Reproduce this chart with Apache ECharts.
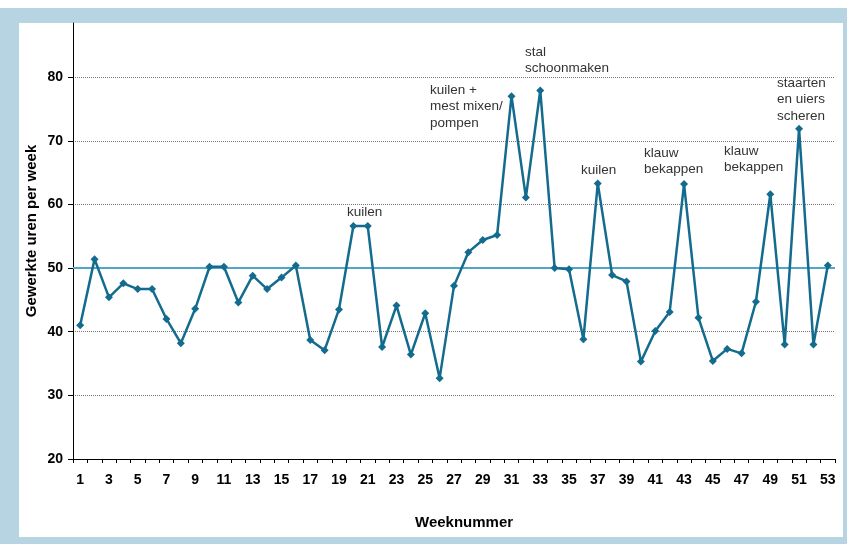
<!DOCTYPE html>
<html>
<head>
<meta charset="utf-8">
<script src="https://cdn.jsdelivr.net/npm/echarts@6/dist/echarts.min.js"></script>
<style>
html,body{margin:0;padding:0;background:#fff;}
#c{width:847px;height:544px;}
</style>
</head>
<body>
<div id="c"></div>
<script>
// Data
const weeks = Array.from({length: 53}, (_, i) => String(i + 1));
const hours = [41.0, 51.4, 45.4, 47.6, 46.7, 46.7, 42.0, 38.2, 43.6, 50.2,
               50.2, 44.6, 48.8, 46.7, 48.5, 50.4, 38.7, 37.1, 43.5, 56.6,
               56.6, 37.6, 44.1, 36.4, 42.9, 32.7, 47.2, 52.5, 54.4, 55.2,
               77.0, 61.1, 77.9, 50.0, 49.8, 38.8, 63.3, 48.9, 47.9, 35.3,
               40.1, 43.1, 63.2, 42.2, 35.4, 37.3, 36.6, 44.7, 61.6, 38.0,
               71.9, 38.0, 50.4];
const referenceLine = 50;
const yTicks = [20, 30, 40, 50, 60, 70, 80];
const yMin = 20;
const yMax = 88.5;
const annotations = [
  {text: 'kuilen', left: 347, top: 204},
  {text: 'kuilen +\nmest mixen/\npompen', left: 430, top: 82},
  {text: 'stal\nschoonmaken', left: 525, top: 44},
  {text: 'kuilen', left: 581, top: 162},
  {text: 'klauw\nbekappen', left: 644, top: 145},
  {text: 'klauw\nbekappen', left: 724, top: 143},
  {text: 'staarten\nen uiers\nscheren', left: 777, top: 75}
];

const chart = echarts.init(document.getElementById('c'), null, {renderer: 'canvas'});
const FONT = 'Liberation Sans, Arial, sans-serif';
const BORDER = '#b7d4e2';

const graphics = [
  {type: 'rect', z: -10, shape: {x: 0, y: 8, width: 847, height: 536}, style: {fill: BORDER}, silent: true},
  {type: 'rect', z: -9, shape: {x: 19, y: 23, width: 824, height: 514}, style: {fill: '#ffffff'}, silent: true},
  {type: 'text', left: 415, top: 515, style: {text: 'Weeknummer', font: 'bold 15px ' + FONT, fill: '#000'}},
  {type: 'text', x: 24, y: 231, rotation: Math.PI / 2, style: {text: 'Gewerkte uren per week', font: 'bold 15px ' + FONT, fill: '#000', align: 'center', verticalAlign: 'top'}}
];
annotations.forEach(a => {
  graphics.push({type: 'text', left: a.left, top: a.top, z: 10,
    style: {text: a.text, font: '13.5px ' + FONT, fill: '#333', lineHeight: 16.5}});
});

chart.setOption({
  animation: false,
  backgroundColor: '#ffffff',
  grid: {left: 73, right: 12, top: 23, bottom: 85, containLabel: false},
  xAxis: {
    type: 'category',
    data: weeks,
    boundaryGap: true,
    axisLine: {lineStyle: {color: '#000', width: 1}},
    axisTick: {show: true, interval: 0, length: 4, lineStyle: {color: '#000'}},
    axisLabel: {interval: 1, margin: 14, color: '#000', fontWeight: 'bold', fontSize: 14, fontFamily: FONT},
    splitLine: {show: false}
  },
  yAxis: {
    type: 'value',
    min: yMin,
    max: yMax,
    interval: 10,
    axisLine: {show: true, lineStyle: {color: '#000', width: 1}},
    axisTick: {show: true, length: 5, customValues: yTicks, lineStyle: {color: '#000'}},
    axisLabel: {customValues: yTicks, margin: 10, color: '#000', fontWeight: 'bold', fontSize: 14, fontFamily: FONT},
    splitLine: {show: true, showMinLine: false, lineStyle: {color: '#777', type: [1, 1], width: 1}}
  },
  graphic: graphics,
  series: [{
    type: 'line',
    data: hours,
    symbol: 'diamond',
    symbolSize: 8,
    showSymbol: true,
    lineStyle: {color: '#136b8e', width: 2.5},
    itemStyle: {color: '#136b8e'},
    z: 3,
    markLine: {
      silent: true,
      symbol: 'none',
      label: {show: false},
      z: 2,
      lineStyle: {color: '#4fa6c9', width: 2, type: 'solid'},
      data: [{yAxis: referenceLine}]
    }
  }]
});
</script>
</body>
</html>
